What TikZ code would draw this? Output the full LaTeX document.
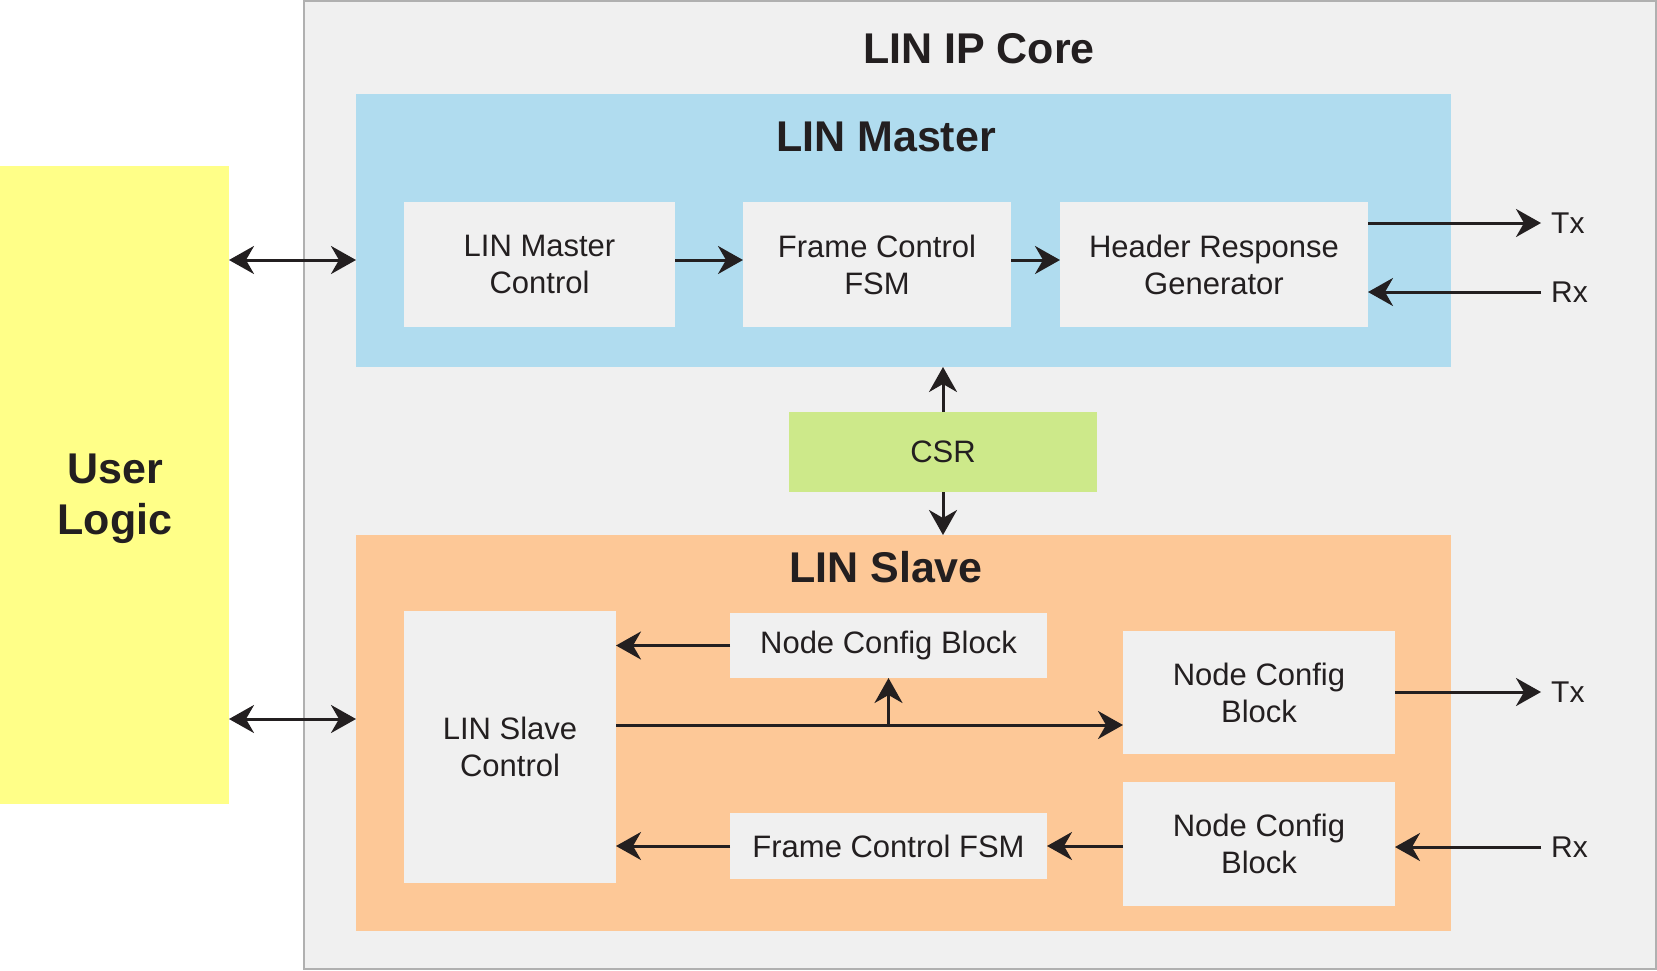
\documentclass[tikz,border=0pt]{standalone}
\usepackage{fontspec}
\setmainfont{Liberation Sans}
\usepackage{tikz}
\usetikzlibrary{positioning}
\usetikzlibrary{arrows.meta, shapes.misc, positioning}

\definecolor{corefill}{HTML}{F0F0F0}
\definecolor{coreline}{HTML}{B0B0B0}
\definecolor{masterfill}{HTML}{B0DCEF}
\definecolor{slavefill}{HTML}{FDC897}
\definecolor{userfill}{HTML}{FFFF88}
\definecolor{csrfill}{HTML}{CDE98A}
\definecolor{ink}{HTML}{231F20}

\tikzset{
	box/.style={rectangle, inner sep=0pt, outer sep=0pt},
	blk/.style={box, fill=corefill, text=ink, align=center, font=\fontsize{31}{37}\selectfont},
	title/.style={text=ink, align=center, font=\fontsize{43}{51}\selectfont\bfseries},
	port/.style={text=ink, anchor=west, inner xsep=10pt, inner ysep=0pt, font=\fontsize{30}{36}\selectfont},
	wire/.style={draw=ink, line width=3pt},
	>={Stealth[length=25pt, width=28pt, inset=8pt]}
}

\begin{document}
	\begin{tikzpicture}[x=1pt, y=-1pt]
		\useasboundingbox (0, 0) rectangle (1657, 970);

		\begin{scope}
			\node (lin_core) at (980, 485) [box, fill=corefill, draw=coreline, line width=2pt, minimum width=1352pt, minimum height=968pt] {};
			\node (core_title) at (979, 49) [title] {LIN IP Core};

			\node (user) at (114.5, 485) [box, fill=userfill, minimum width=229pt, minimum height=638pt] {};
			\node (user_title) at (115, 499) [title] {User\\Logic};

			\node (master) at (903.5, 230.5) [box, fill=masterfill, minimum width=1095pt, minimum height=273pt] {};
			\node (master_title) at (886, 137) [title] {LIN Master};

			\node (slave) at (903.5, 733) [box, fill=slavefill, minimum width=1095pt, minimum height=396pt] {};
			\node (slave_title) at (886, 567) [title] {LIN Slave};

			\node (csr) at (943, 452) [blk, fill=csrfill, minimum width=308pt, minimum height=80pt] {CSR};
		\end{scope}

		% LIN Master
		\begin{scope}
			\node (m_ctrl) at (539.5, 264.5) [blk, minimum width=271pt, minimum height=125pt] {LIN Master\\Control};
			\node (m_fsm) at (877, 264.5) [blk, minimum width=268pt, minimum height=125pt] {Frame Control\\FSM};
			\node (hdr_gen) at (1214, 264.5) [blk, minimum width=308pt, minimum height=125pt] {Header Response\\Generator};

			\node (m_tx) at (1541, 223) [port] {Tx};
			\node (m_rx) at (1541, 292) [port] {Rx};
			\coordinate (m_row) at (0, 260);
		\end{scope}

		% LIN Slave
		\begin{scope}
			\node (s_ctrl) at (510, 747) [blk, minimum width=212pt, minimum height=272pt] {LIN Slave\\Control};
			\node (cfg_top) at (888.5, 645.5) [blk, minimum width=317pt, minimum height=65pt] {Node Config Block};
			\node (s_fsm) at (888.5, 846) [blk, minimum width=317pt, minimum height=66pt] {Frame Control FSM};
			\node (cfg_tx) at (1259, 692.5) [blk, minimum width=272pt, minimum height=123pt] {Node Config\\Block};
			\node (cfg_rx) at (1259, 844) [blk, minimum width=272pt, minimum height=124pt] {Node Config\\Block};

			\node (s_tx) at (1541, 692) [port] {Tx};
			\node (s_rx) at (1541, 847) [port] {Rx};
			\coordinate (s_row) at (0, 725);
			\coordinate (u_row) at (0, 719);
		\end{scope}

		% Connectors
		\draw[wire, <->] (user.east |- m_row) -- (master.west |- m_row);
		\draw[wire, ->] (m_ctrl.east |- m_row) -- (m_fsm.west |- m_row);
		\draw[wire, ->] (m_fsm.east |- m_row) -- (hdr_gen.west |- m_row);
		\draw[wire, ->] (hdr_gen.east |- m_tx) -- (m_tx.west);
		\draw[wire, ->] (m_rx.west) -- (hdr_gen.east |- m_rx);

		\draw[wire, ->] (csr.north) -- (csr.north |- master.south);
		\draw[wire, ->] (csr.south) -- (csr.south |- slave.north);

		\draw[wire, <->] (user.east |- u_row) -- (slave.west |- u_row);
		\draw[wire, ->] (s_ctrl.east |- s_row) -- (cfg_tx.west |- s_row);
		\draw[wire, ->] (cfg_top.south |- s_row) -- (cfg_top.south);
		\draw[wire, ->] (cfg_top.west) -- (s_ctrl.east |- cfg_top.west);
		\draw[wire, ->] (s_fsm.west) -- (s_ctrl.east |- s_fsm.west);
		\draw[wire, ->] (cfg_rx.west |- s_fsm.west) -- (s_fsm.east);
		\draw[wire, ->] (cfg_tx.east |- s_tx) -- (s_tx.west);
		\draw[wire, ->] (s_rx.west) -- (cfg_rx.east |- s_rx);

	\end{tikzpicture}
\end{document}
